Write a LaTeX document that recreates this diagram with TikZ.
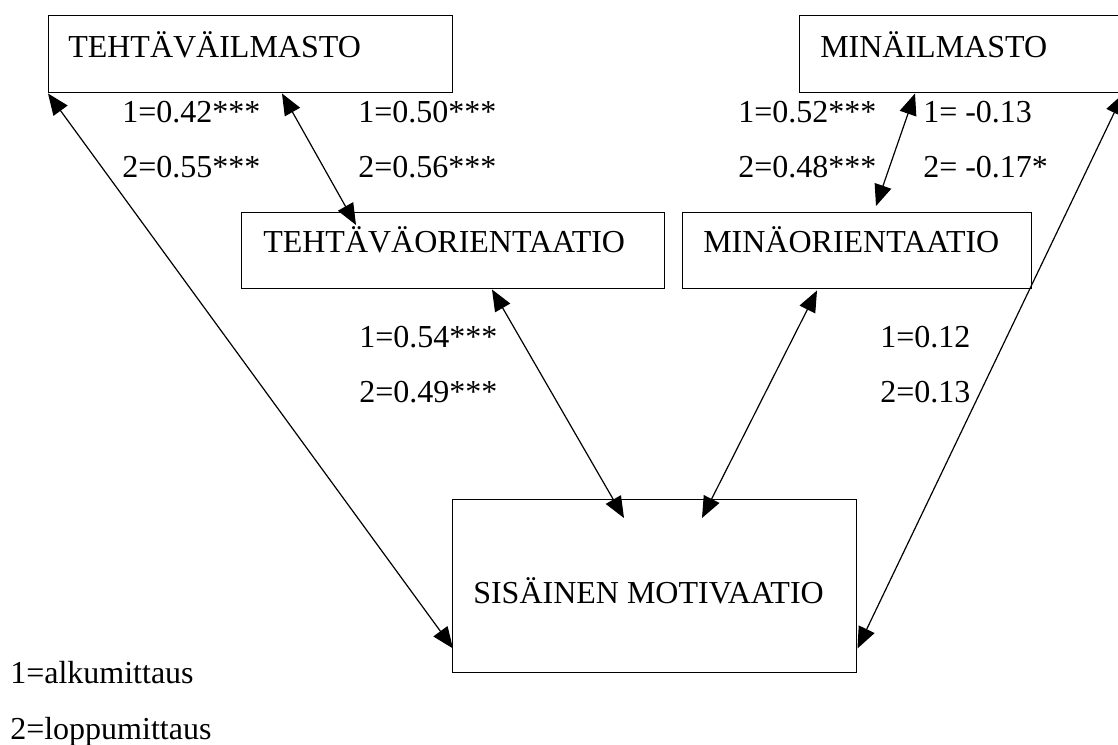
\documentclass[tikz,border=0pt]{standalone}
\usepackage{fontspec}
\setmainfont{Liberation Serif}
\usetikzlibrary{arrows.meta,calc}
\begin{document}
\begin{tikzpicture}[x=0.75pt,y=-0.75pt,
  box/.style={draw=black,line width=1.1pt,rectangle,inner sep=0pt,anchor=north west},
  txt/.style={inner sep=0pt,anchor=base west,font=\fontsize{24}{28}\selectfont},
  link/.style={line width=0.9pt,{Triangle[length=16pt,width=13pt]}-{Triangle[length=16pt,width=13pt]}}]
\useasboundingbox (0,0) rectangle (1118,744);
% boxes
\node[box,minimum width=303pt,minimum height=57.75pt] (ta) at (48,15) {};
\node[box,minimum width=242.25pt,minimum height=57.75pt] (mi) at (799,15) {};
\node[box,minimum width=317.25pt,minimum height=57pt] (to) at (241,212) {};
\node[box,minimum width=261.75pt,minimum height=57pt] (mo) at (682,212) {};
\node[box,minimum width=303pt,minimum height=129.75pt] (sm) at (452,499) {};
% box texts
\node[txt] (tat) at (68,57) {TEHTÄVÄILMASTO};
\node[txt] (mit) at (820,57) {MINÄILMASTO};
\node[txt] (tot) at (263,252) {TEHTÄVÄORIENTAATIO};
\node[txt] (mot) at (703,252) {MINÄORIENTAATIO};
\node[txt] (smt) at (473,603) {SISÄINEN MOTIVAATIO};
% connectors
\draw[link] (ta.south west) -- ($(sm.south west)+(1,-25)$);
\draw[link] ($(ta.south west)+(234,0)$) -- ($(to.north west)+(115,13)$);
\draw[link] ($(mi.south west)+(116,0)$) -- ($(mo.north west)+(194,-6)$);
\draw[link] (mi.south east) -- ($(sm.south east)+(0,-25)$);
\draw[link] ($(to.south west)+(251,0)$) -- ($(sm.north west)+(172,19)$);
\draw[link] ($(mo.south west)+(135,1)$) -- ($(sm.north west)+(250,19)$);
% labels
\node[txt] (l1) at (122,122) {1=0.42***};
\node[txt] (l2) at (122,177) {2=0.55***};
\node[txt] (l3) at (358,122) {1=0.50***};
\node[txt] (l4) at (358,177) {2=0.56***};
\node[txt] (l5) at (738,122) {1=0.52***};
\node[txt] (l6) at (738,177) {2=0.48***};
\node[txt] (l7) at (923,122) {1= -0.13};
\node[txt] (l8) at (923,177) {2= -0.17*};
\node[txt] (l9) at (359,347) {1=0.54***};
\node[txt] (l10) at (359,402) {2=0.49***};
\node[txt] (l11) at (880,347) {1=0.12};
\node[txt] (l12) at (880,402) {2=0.13};
\node[txt] (k1) at (10,683) {1=alkumittaus};
\node[txt] (k2) at (10,739) {2=loppumittaus};
\end{tikzpicture}
\end{document}
